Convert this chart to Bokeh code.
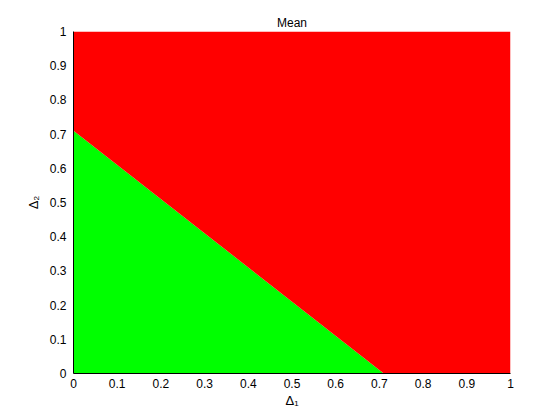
from bokeh.plotting import figure
from bokeh.models import Range1d, FixedTicker
from bokeh.embed import file_html
from bokeh.resources import INLINE

# Decision boundary (Δ1 + Δ2 = threshold) sampled as a polyline
boundary_x = [0.0, 0.71, 1.0]
boundary_y = [0.71, 0.0, 0.0]
top_y = [1.0, 1.0, 1.0]
bottom_y = [0.0, 0.0, 0.0]
ticks = [0, 0.1, 0.2, 0.3, 0.4, 0.5, 0.6, 0.7, 0.8, 0.9, 1]
tick_labels = {0: "0", 0.1: "0.1", 0.2: "0.2", 0.3: "0.3", 0.4: "0.4", 0.5: "0.5",
               0.6: "0.6", 0.7: "0.7", 0.8: "0.8", 0.9: "0.9", 1: "1"}

FONT = "Liberation Sans"

p = figure(width=544, height=412, output_backend="svg", toolbar_location=None,
           x_range=Range1d(0, 1), y_range=Range1d(0, 1),
           min_border_left=73, min_border_right=34, min_border_top=31, min_border_bottom=39,
           title="Mean")

p.varea(x=boundary_x, y1=bottom_y, y2=boundary_y, color="#00FF00")
p.varea(x=boundary_x, y1=boundary_y, y2=top_y, color="#FF0000")

p.title.align = "center"
p.title.text_font = FONT
p.title.text_font_size = "12px"
p.title.text_font_style = "normal"
p.title.text_color = "black"
p.title.standoff = 4

p.grid.visible = False
p.background_fill_color = "white"
p.border_fill_color = "white"
p.outline_line_color = "white"
p.outline_line_dash = "1 2"

for ax in (p.xaxis[0], p.yaxis[0]):
    ax.ticker = FixedTicker(ticks=ticks)
    ax.major_label_overrides = tick_labels
    ax.major_tick_in = 0
    ax.major_tick_out = 0
    ax.minor_tick_in = 0
    ax.minor_tick_out = 0
    ax.axis_line_color = "black"
    ax.major_label_text_font = FONT
    ax.major_label_text_font_size = "12px"
    ax.major_label_text_color = "black"
    ax.axis_label_text_font = FONT
    ax.axis_label_text_font_size = "13px"
    ax.axis_label_text_font_style = "normal"
    ax.axis_label_text_color = "black"

p.xaxis.axis_label = "Δ₁"
p.yaxis.axis_label = "Δ₂"
p.xaxis.major_label_standoff = 5
p.yaxis.major_label_standoff = 7
p.xaxis.axis_label_standoff = 2
p.yaxis.axis_label_standoff = 6

open("out.html", "w").write(file_html(p, INLINE))
